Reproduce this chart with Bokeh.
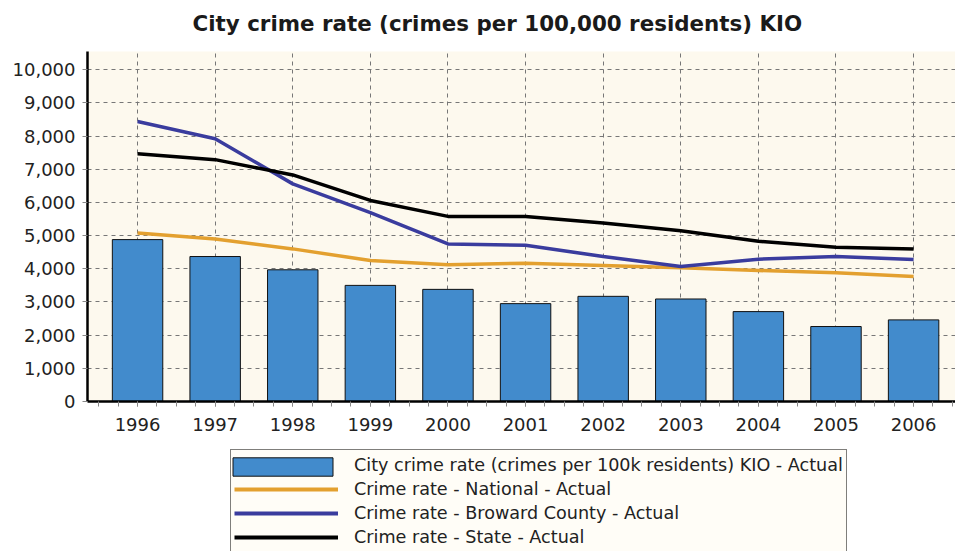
from bokeh.plotting import figure
from bokeh.layouts import column
from bokeh.models import (ColumnDataSource, Range1d, SingleIntervalTicker, FixedTicker,
                          NumeralTickFormatter, Legend, LegendItem, Title)
from bokeh.embed import file_html
from bokeh.resources import INLINE

years = [1996, 1997, 1998, 1999, 2000, 2001, 2002, 2003, 2004, 2005, 2006]
city_kio = [4880, 4370, 3970, 3500, 3380, 2950, 3170, 3090, 2710, 2260, 2460]
national = [5080, 4900, 4600, 4250, 4120, 4170, 4100, 4030, 3950, 3880, 3770]
broward = [8440, 7920, 6560, 5690, 4750, 4710, 4370, 4070, 4290, 4370, 4280]
state = [7470, 7290, 6830, 6060, 5580, 5580, 5380, 5150, 4830, 4650, 4600]
y_ticks = [0, 1000, 2000, 3000, 4000, 5000, 6000, 7000, 8000, 9000, 10000]

labels = ["City crime rate (crimes per 100k residents) KIO - Actual",
          "Crime rate - National - Actual",
          "Crime rate - Broward County - Actual",
          "Crime rate - State - Actual"]

BAR_FILL = "#428bcc"
COL_NAT = "#e3a02f"
COL_BRO = "#3a3c9e"
COL_STA = "#000000"

src = ColumnDataSource(dict(year=years, city=city_kio, national=national,
                            broward=broward, state=state))

p = figure(width=955, height=445, output_backend="svg", toolbar_location=None,
           x_range=Range1d(1995.355, 2006.54), y_range=Range1d(0, 10550),
           title="City crime rate (crimes per 100,000 residents) KIO",
           min_border_left=87, min_border_right=0, min_border_top=51,
           min_border_bottom=44,
           background_fill_color="#fdf9ee", border_fill_color="white",
           outline_line_color=None)

p.title.text_font = "DejaVu Sans"
p.title.text_font_size = "21.4px"
p.title.text_font_style = "bold"
p.title.text_color = "#1a1a1a"
p.title.align = "left"
p.title.offset = 105
# spacer between title and plot area
p.add_layout(Title(text=" ", text_font_size="8px", standoff=0), "above")

p.vbar(x="year", top="city", width=0.65, source=src,
       fill_color=BAR_FILL, line_color="#111111", line_width=1)
p.line("year", "national", source=src, line_color=COL_NAT, line_width=3.5)
p.line("year", "broward", source=src, line_color=COL_BRO, line_width=3.5)
p.line("year", "state", source=src, line_color=COL_STA, line_width=3.5)

# axes
p.xaxis.ticker = SingleIntervalTicker(interval=1, num_minor_ticks=4)
p.yaxis.ticker = FixedTicker(ticks=y_ticks)
p.yaxis.formatter = NumeralTickFormatter(format="0,0")
for ax in (p.xaxis, p.yaxis):
    ax.axis_line_color = "black"
    ax.axis_line_width = 2.5
    ax.major_label_text_font = "DejaVu Sans"
    ax.major_label_text_font_size = "18px"
    ax.major_label_text_color = "#222222"
    ax.major_tick_line_color = "#888888"
    ax.major_tick_in = 0
    ax.major_tick_out = 5
p.xaxis.minor_tick_line_color = "#888888"
p.xaxis.minor_tick_in = 0
p.xaxis.minor_tick_out = 5
p.yaxis.minor_tick_line_color = None
p.xaxis.major_label_standoff = 11
p.yaxis.major_label_standoff = 7

p.xgrid.ticker = SingleIntervalTicker(interval=1)
p.ygrid.ticker = FixedTicker(ticks=y_ticks)
for g in (p.xgrid, p.ygrid):
    g.grid_line_color = "#777777"
    g.grid_line_dash = "4 4"
    g.grid_line_width = 1

# legend panel: a second figure below the chart whose ranges keep its copies
# of the series out of view, so only the legend swatches show
p2 = figure(width=955, height=106, output_backend="svg", toolbar_location=None,
            x_range=Range1d(0, 1), y_range=Range1d(0, 1),
            x_axis_type=None, y_axis_type=None, min_border=0,
            background_fill_color="white", border_fill_color="white",
            outline_line_color=None)
p2.grid.visible = False

r_bar = p2.vbar(x="year", top="city", width=0.65, source=src,
                fill_color=BAR_FILL, line_color="#111111", line_width=1)
r_bar_blank = p2.vbar(x="year", top="city", width=0.65, source=src,
                      fill_alpha=0, line_alpha=0)
r_nat = p2.line("year", "national", source=src, line_color=COL_NAT, line_width=4)
r_bro = p2.line("year", "broward", source=src, line_color=COL_BRO, line_width=4)
r_sta = p2.line("year", "state", source=src, line_color=COL_STA, line_width=4)

legend = Legend(items=[LegendItem(label=labels[0], renderers=[r_bar_blank]),
                       LegendItem(label=labels[1], renderers=[r_nat]),
                       LegendItem(label=labels[2], renderers=[r_bro]),
                       LegendItem(label=labels[3], renderers=[r_sta])],
                location=(143, -2), orientation="vertical",
                glyph_width=104, glyph_height=24, label_standoff=16,
                spacing=0, padding=3, margin=0,
                border_line_color="black", border_line_width=1,
                background_fill_color="#fffdf7", background_fill_alpha=1,
                label_text_font="DejaVu Sans", label_text_font_size="17.6px",
                label_text_color="#222222")
p2.add_layout(legend, "center")

legend_bar = Legend(items=[LegendItem(label=" ", renderers=[r_bar])],
                    location=(133, 73), orientation="vertical",
                    glyph_width=125, glyph_height=23, label_standoff=0,
                    spacing=0, padding=0, margin=0,
                    border_line_color=None, background_fill_alpha=0,
                    label_text_font_size="1px", label_height=1, label_width=1)
p2.add_layout(legend_bar, "center")

layout = column(p, p2, spacing=0)
open("out.html", "w").write(file_html(layout, INLINE))
